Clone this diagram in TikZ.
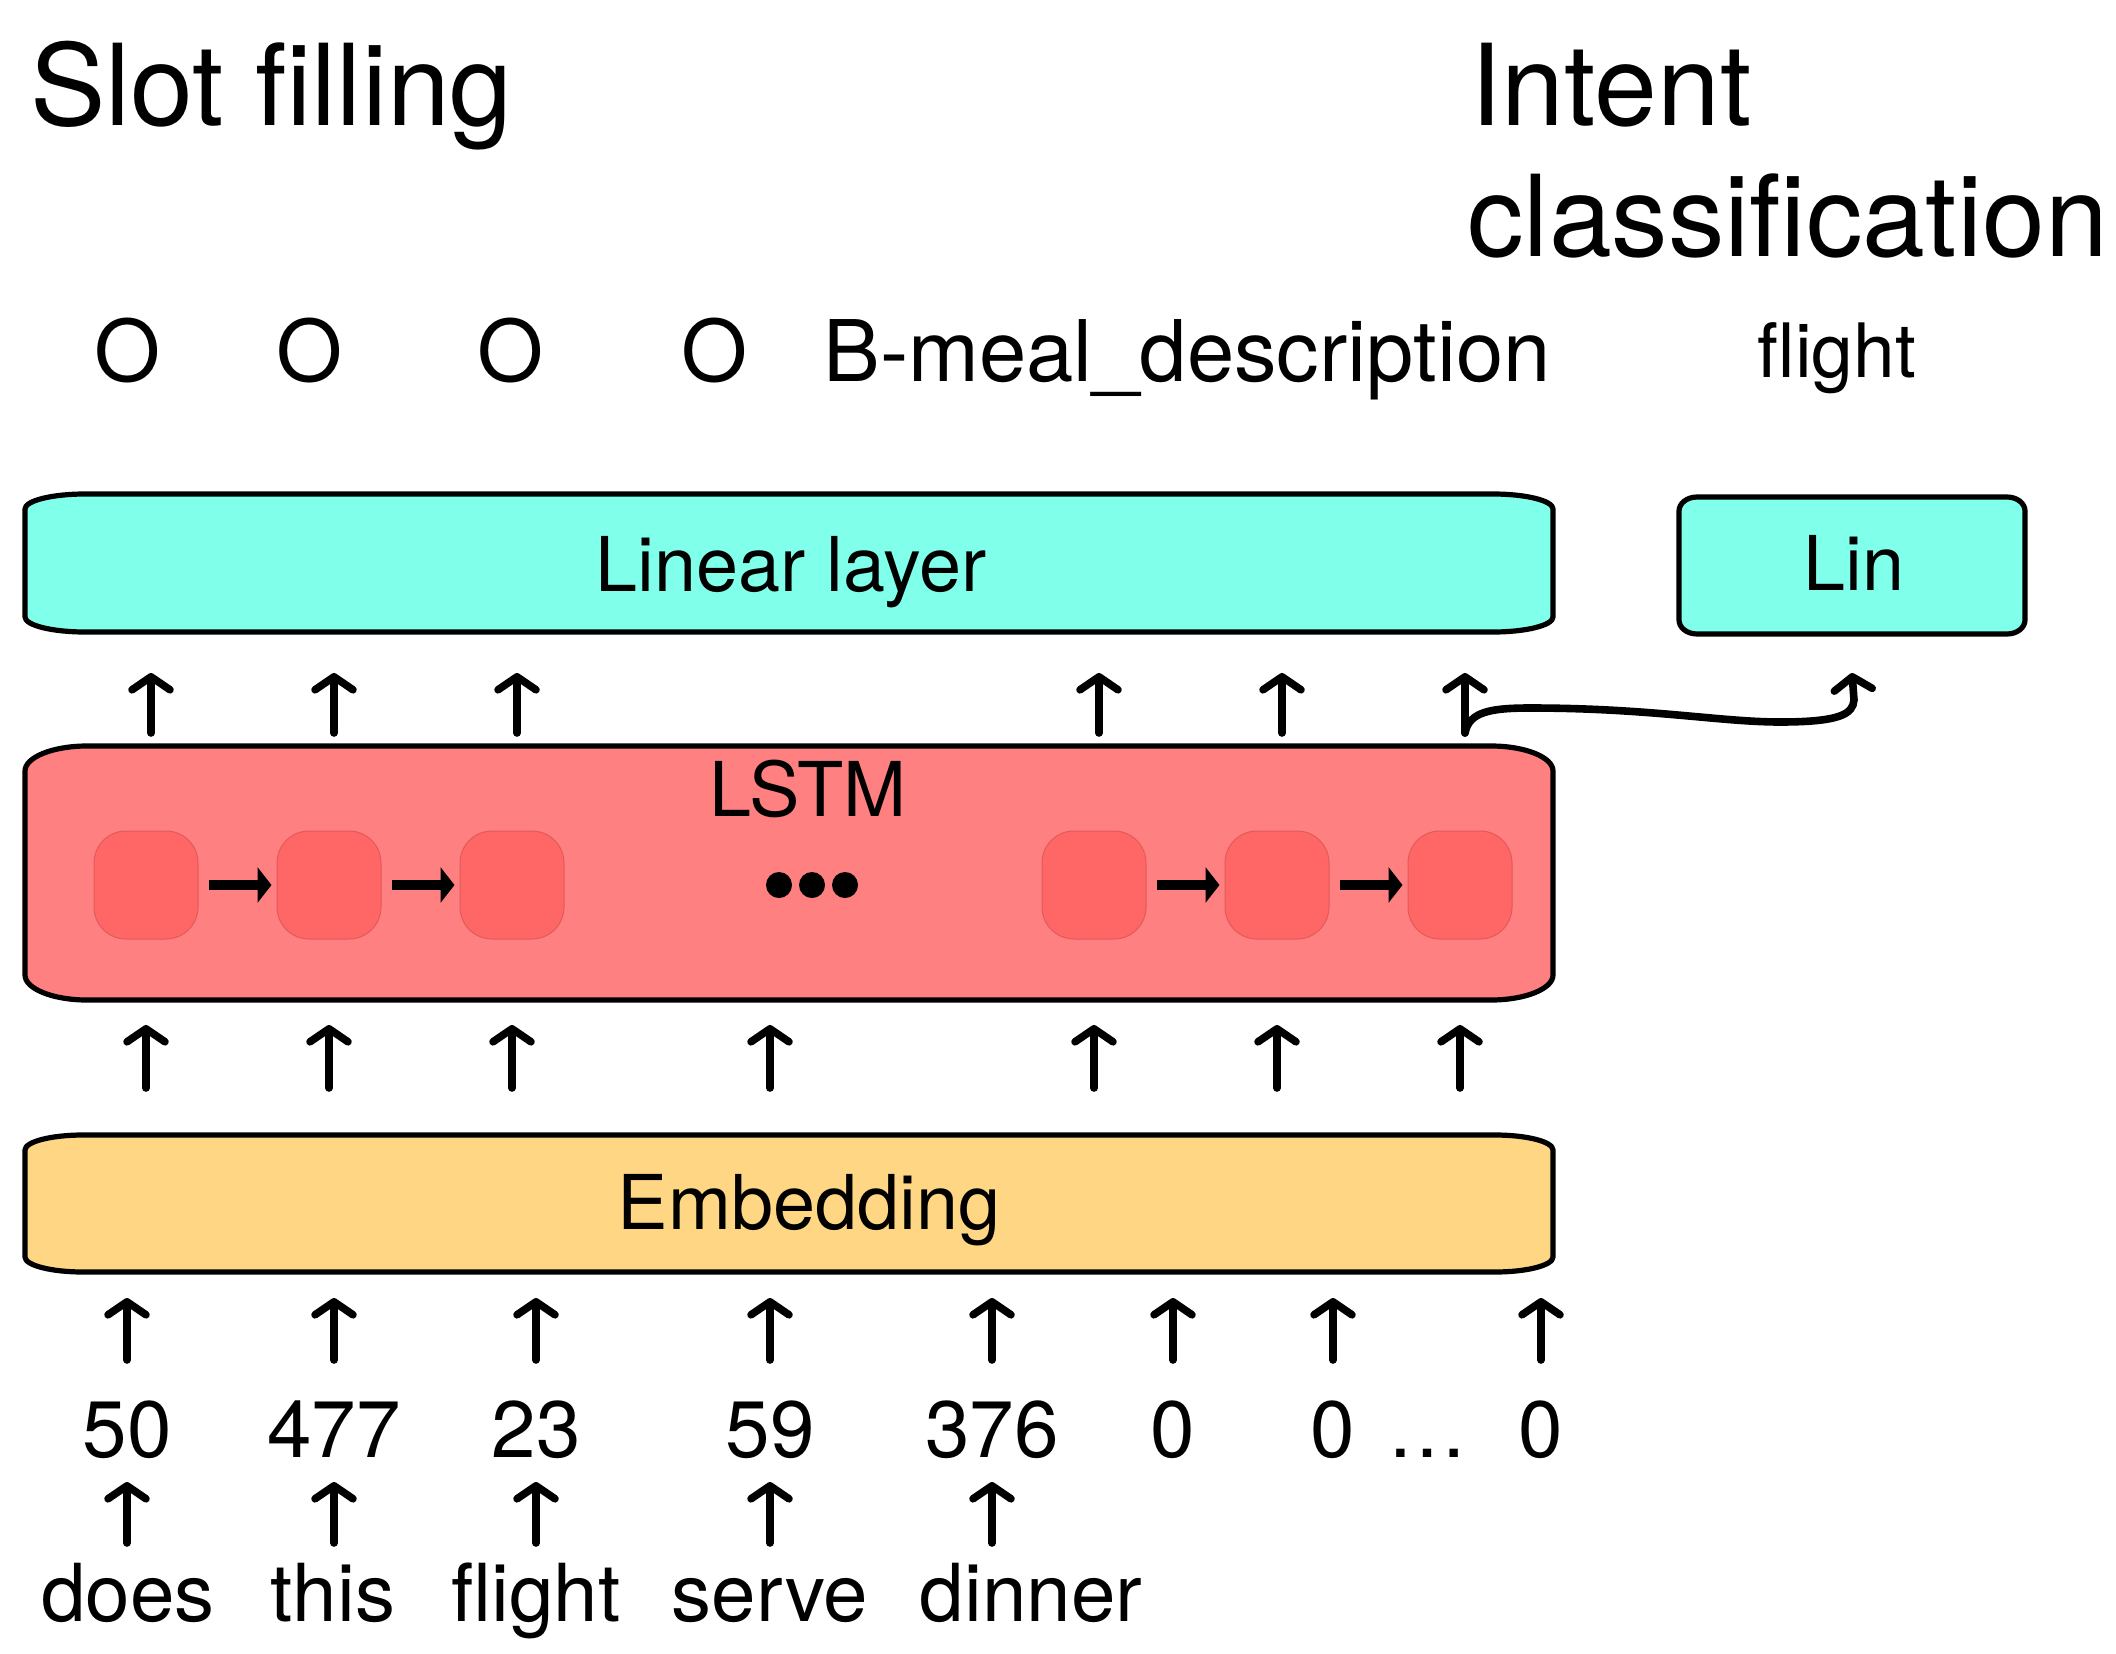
\documentclass[tikz,border=0pt]{standalone}
\usepackage{fontspec}
\setmainfont{TeX Gyre Heros}
\usetikzlibrary{arrows.meta,calc}
\definecolor{linfill}{HTML}{80FFEA}
\definecolor{lstmfill}{HTML}{FF8080}
\definecolor{cellfill}{HTML}{FF6666}
\definecolor{celldraw}{HTML}{E25A5A}
\definecolor{embfill}{HTML}{FFD684}
\newcommand\mylayerbox[4]{%
  \path[#4] ([xshift=#2]#1.north west) -- ([xshift=-#2]#1.north east)
    arc[start angle=90,end angle=0,x radius=#2,y radius=#3]
    -- ([yshift=#3]#1.south east)
    arc[start angle=0,end angle=-90,x radius=#2,y radius=#3]
    -- ([xshift=#2]#1.south west)
    arc[start angle=-90,end angle=-180,x radius=#2,y radius=#3]
    -- ([yshift=-#3]#1.north west)
    arc[start angle=180,end angle=90,x radius=#2,y radius=#3] -- cycle;}
\tikzset{
  frame/.style={rectangle, draw=none, inner sep=0pt, outer sep=0pt},
  layerline/.style={draw=black, line width=2.6pt, line join=round},
  upar/.style={line width=3.8pt, line cap=round, -{Straight Barb[length=6.5pt,width=19pt,round]}},
  cellar/.style={line width=5pt, -{Triangle[length=7pt,width=17.5pt]}},
  cellbox/.style={rectangle, rounded corners=16pt, fill=cellfill, draw=celldraw, line width=0.5pt, minimum width=52pt, minimum height=54pt, inner sep=0pt},
  boxlabel/.style={anchor=base, inner sep=0pt, font=\fontsize{37.8}{44}\selectfont},
  toklabel/.style={anchor=base, inner sep=0pt, font=\fontsize{40}{47}\selectfont},
  tagtext/.style={anchor=base, inner sep=0pt, font=\fontsize{42.5}{50}\selectfont},
  titletext/.style={anchor=base west, inner sep=0pt, font=\fontsize{56.5}{66}\selectfont},
}
\begin{document}
\begin{tikzpicture}[x=0.5pt,y=-0.5pt]
\useasboundingbox (0,0) rectangle (2116,1654);
\fill[white] (0,0) rectangle (2116,1654);

% titles
\node[titletext] (slot) at (30,125) {Slot filling};
\node[titletext] (intent1) at (1470,125) {Intent};
\node[titletext] (intent2) at (1467,256) {classification};

% output tags
\node[tagtext] (o1) at (128,381) {O};
\node[tagtext] (o2) at (310,381) {O};
\node[tagtext] (o3) at (511,381) {O};
\node[tagtext] (o4) at (715,381) {O};
\node[tagtext] (o5) at (1187,381) {B-meal\_description};
\node[boxlabel, font=\fontsize{37.5}{44}\selectfont] (intentout) at (1837,377) {flight};

% layer frames
\node[frame, minimum width=764pt, minimum height=69pt] (lin) at (789,563) {};
\node[frame, minimum width=173pt, minimum height=68.5pt] (linsmall) at (1852,565.5) {};
\node[frame, minimum width=764pt, minimum height=127pt] (lstm) at (789,873) {};
\node[frame, minimum width=764pt, minimum height=68.5pt] (emb) at (789,1203.5) {};

\mylayerbox{lin}{30pt}{7.5pt}{fill=linfill, layerline}
\mylayerbox{linsmall}{9pt}{7pt}{fill=linfill, layerline}
\mylayerbox{lstm}{31pt}{12.5pt}{fill=lstmfill, layerline}
\mylayerbox{emb}{29pt}{7.5pt}{fill=embfill, layerline}

\node[boxlabel] (linlabel) at (791,591) {Linear layer};
\node[boxlabel] (linsmalllabel) at (1854,590) {Lin};
\node[boxlabel] (lstmlabel) at (808,816) {LSTM};
\node[boxlabel] (emblabel) at (809,1229) {Embedding};

% LSTM cells
\node[cellbox] (c1) at (146,885) {};
\node[cellbox] (c2) at (329,885) {};
\node[cellbox] (c3) at (512,885) {};
\node[cellbox] (c4) at (1094,885) {};
\node[cellbox] (c5) at (1277,885) {};
\node[cellbox] (c6) at (1460,885) {};
\draw[cellar] ([xshift=5pt]c1.east) -- ([xshift=-2.5pt]c2.west);
\draw[cellar] ([xshift=5pt]c2.east) -- ([xshift=-2.5pt]c3.west);
\draw[cellar] ([xshift=5pt]c4.east) -- ([xshift=-2.5pt]c5.west);
\draw[cellar] ([xshift=5pt]c5.east) -- ([xshift=-2.5pt]c6.west);

% dots
\node[inner sep=0pt, minimum size=0pt] (dots) at (812,885) {};
\fill ([xshift=-16.5pt]dots) circle[radius=6.5pt];
\fill (dots) circle[radius=6.5pt];
\fill ([xshift=16.5pt]dots) circle[radius=6.5pt];

% numbers
\node[toklabel] (n1) at (127,1457) {50};
\node[toklabel] (n2) at (334,1457) {477};
\node[toklabel] (n3) at (536,1457) {23};
\node[toklabel] (n4) at (770,1457) {59};
\node[toklabel] (n5) at (992,1457) {376};
\node[toklabel] (n6) at (1173,1457) {0};
\node[toklabel] (n7) at (1333,1457) {0};
\node[toklabel] (nd) at (1427,1457) {…};
\node[toklabel] (n8) at (1541,1457) {0};

% words
\node[toklabel] (w1) at (128,1621) {does};
\node[toklabel] (w2) at (333,1621) {this};
\node[toklabel] (w3) at (536,1621) {flight};
\node[toklabel] (w4) at (770,1621) {serve};
\node[toklabel] (w5) at (1031,1621) {dinner};

% arrows words -> numbers
\foreach \n in {n1,n2,n3,n4,n5}
  \draw[upar] (\n |- 0,1543) -- (\n |- 0,1482);
% arrows numbers -> embedding
\foreach \n in {n1,n2,n3,n4,n5,n6,n7,n8}
  \draw[upar] (\n |- 0,1360) -- (\n |- 0,1298);
% arrows embedding -> LSTM
\foreach \n in {c1,c2,c3,n4,c4,c5,c6}
  \draw[upar] (\n |- 0,1088) -- (\n |- 0,1025);
% arrows LSTM -> linear layer
\foreach \n in {c1,c2,c3,c4,c5,c6}
  \draw[upar] ($(\n |- 0,733)+(5,0)$) -- ($(\n |- 0,673)+(5,0)$);
% last state -> Lin
\draw[upar] ($(c6 |- 0,733)+(5,0)$) .. controls (1469,712) and (1490,708) .. (1530,708)
  .. controls (1650,708) and (1720,722) .. (1780,722)
  .. controls (1840,722) and (1853,714) .. (1854,700) -- (linsmall |- 0,673);
\end{tikzpicture}
\end{document}
